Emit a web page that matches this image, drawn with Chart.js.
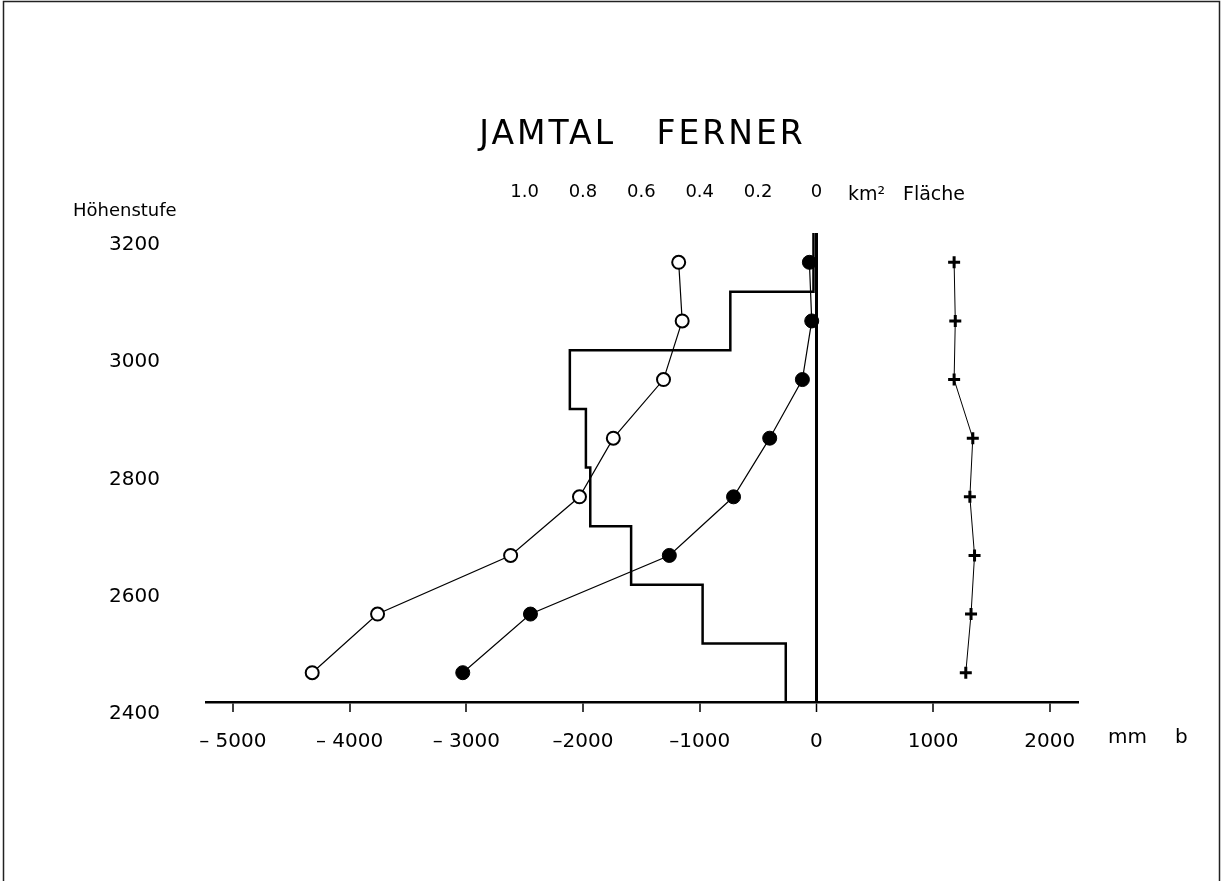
<!DOCTYPE html>
<html>
<head>
<meta charset="utf-8">
<script src="https://cdn.jsdelivr.net/npm/chart.js@4.4.1/dist/chart.umd.min.js"></script>
<style>
  html, body { margin: 0; padding: 0; background: #fff; overflow: hidden; }
  #wrap { position: relative; width: 1222px; height: 881px; }
</style>
</head>
<body>
<div id="wrap"><canvas id="c"></canvas></div>
<script>
// ---- data ----
const heights        = [3150, 3050, 2950, 2850, 2750, 2650, 2550, 2450];      // Höhenstufe midpoints (m)
const balanceOpen    = [-1180, -1150, -1310, -1740, -2030, -2620, -3760, -4320]; // mm b (open circles)
const balanceFilled  = [-60, -40, -120, -400, -710, -1260, -2450, -3030];     // mm b (filled circles)
const balancePlus    = [1180, 1190, 1180, 1340, 1315, 1355, 1325, 1280];      // mm b (plus markers)
const bandTop        = [3200, 3100, 3000, 2900, 2800, 2700, 2600, 2500];
const bandBottom     = [3100, 3000, 2900, 2800, 2700, 2600, 2500, 2400];
const areaKm2        = [0.01, 0.295, 0.845, 0.79, 0.775, 0.635, 0.39, 0.105]; // km² Fläche per band
const xTickValues    = [-5000, -4000, -3000, -2000, -1000, 0, 1000, 2000];
const xTickLabels    = ['\u2013 5000', '\u2013 4000', '\u2013 3000', '\u20132000', '\u20131000', '0', '1000', '2000'];
const areaTickValues = [1.0, 0.8, 0.6, 0.4, 0.2, 0];
const areaTickLabels = ['1.0', '0.8', '0.6', '0.4', '0.2', '0'];
const yTickValues    = [2400, 2600, 2800, 3000, 3200];
const yTickLabels    = ['2400', '2600', '2800', '3000', '3200'];

const X_MIN = -5230, X_MAX = 2250;   // mm b range
const MM_PER_KM2 = 2500;             // 0.2 km² drawn as 500 mm

const FONT = "'DejaVu Sans', 'Liberation Sans', sans-serif";
Chart.defaults.color = '#000';
Chart.defaults.font.family = FONT;

const histPoints = [];
areaKm2.forEach((a, i) => {
  histPoints.push({ x: a, y: bandTop[i] });
  histPoints.push({ x: a, y: bandBottom[i] });
});

const pageDecor = {
  id: 'pageDecor',
  beforeDraw(chart) {
    const ctx = chart.ctx;
    ctx.save();
    ctx.fillStyle = '#fff';
    ctx.fillRect(0, 0, chart.width, chart.height);
    ctx.strokeStyle = '#222';
    ctx.lineWidth = 1.5;
    ctx.beginPath();
    ctx.moveTo(3.5, chart.height); ctx.lineTo(3.5, 1.5);
    ctx.lineTo(1219.5, 1.5); ctx.lineTo(1219.5, chart.height);
    ctx.stroke();
    ctx.restore();
  },
  afterLayout(chart) {
    const tb = chart.titleBlock;
    if (tb && !tb._spaced) {
      const orig = tb.draw;
      tb.draw = function (...args) {
        const c = this.ctx;
        c.save();
        c.letterSpacing = '3px';
        orig.apply(this, args);
        c.restore();
      };
      tb._spaced = true;
    }
  },
  afterDraw(chart) {
    const ctx = chart.ctx;
    ctx.save();
    ctx.fillStyle = '#000';
    ctx.textBaseline = 'middle';
    ctx.textAlign = 'left';
    ctx.font = '18px ' + FONT;
    ctx.fillText('Höhenstufe', 73, 211);
    ctx.font = '19px ' + FONT;
    ctx.fillText('km\u00B2', 848, 195);
    ctx.fillText('Fläche', 903, 195);
    ctx.font = '20px ' + FONT;
    ctx.fillText('mm', 1108, 738);
    ctx.fillText('b', 1175, 738);
    ctx.restore();
  }
};

new Chart(document.getElementById('c'), {
  type: 'scatter',
  data: {
    datasets: [
      {
        label: 'open',
        data: heights.map((h, i) => ({ x: balanceOpen[i], y: h })),
        showLine: true,
        borderColor: '#000',
        borderWidth: 1.2,
        pointStyle: 'circle',
        pointRadius: 6.5,
        pointBorderWidth: 2,
        pointBackgroundColor: '#fff',
        pointBorderColor: '#000',
        xAxisID: 'x', yAxisID: 'y'
      },
      {
        label: 'filled',
        data: heights.map((h, i) => ({ x: balanceFilled[i], y: h })),
        showLine: true,
        borderColor: '#000',
        borderWidth: 1.2,
        pointStyle: 'circle',
        pointRadius: 7,
        pointBorderWidth: 1,
        pointBackgroundColor: '#000',
        pointBorderColor: '#000',
        xAxisID: 'x', yAxisID: 'y'
      },
      {
        label: 'plus',
        data: heights.map((h, i) => ({ x: balancePlus[i], y: h })),
        showLine: true,
        borderColor: '#000',
        borderWidth: 1,
        pointStyle: 'cross',
        pointRadius: 6,
        pointBorderWidth: 3,
        pointBorderColor: '#000',
        xAxisID: 'x', yAxisID: 'y'
      },
      {
        label: 'Fläche',
        data: histPoints,
        showLine: true,
        borderColor: '#000',
        borderWidth: 2.5,
        pointRadius: 0,
        xAxisID: 'xa', yAxisID: 'y'
      }
    ]
  },
  options: {
    responsive: true,
    maintainAspectRatio: false,
    animation: false,
    events: [],
    layout: { padding: { top: 0, left: 0, right: 143, bottom: 99 } },
    plugins: {
      legend: { display: false },
      tooltip: { enabled: false },
      title: {
        display: true,
        text: 'JAMTAL   FERNER',
        fullSize: false,
        color: '#000',
        font: { family: FONT, size: 33, weight: 'normal', lineHeight: 1.25 },
        padding: { top: 115, bottom: 0 }
      }
    },
    scales: {
      x: {
        type: 'linear',
        position: 'bottom',
        min: X_MIN, max: X_MAX,
        afterBuildTicks: (s) => { s.ticks = xTickValues.map(v => ({ value: v })); },
        afterFit: (s) => { s.height = 80; },
        ticks: {
          font: { size: 20 },
          padding: 18,
          maxRotation: 0,
          autoSkip: false,
          callback: (v) => { const i = xTickValues.indexOf(v); return i >= 0 ? xTickLabels[i] : ''; }
        },
        grid: {
          display: true,
          drawOnChartArea: true,
          drawTicks: true,
          tickLength: 10,
          tickColor: '#000',
          tickWidth: 1.5,
          color: (c) => (c.tick && c.tick.value === 0) ? '#000' : 'rgba(0,0,0,0)',
          lineWidth: (c) => (c.tick && c.tick.value === 0) ? 3 : 0
        },
        border: { display: true, color: '#000', width: 2.5 }
      },
      xa: {
        type: 'linear',
        position: 'top',
        reverse: true,
        min: -X_MAX / MM_PER_KM2,
        max: -X_MIN / MM_PER_KM2,
        afterBuildTicks: (s) => { s.ticks = areaTickValues.map(v => ({ value: v })); },
        afterFit: (s) => { s.height = 76.75; },
        ticks: {
          font: { size: 18 },
          padding: 22,
          maxRotation: 0,
          autoSkip: false,
          callback: (v) => { const i = areaTickValues.indexOf(v); return i >= 0 ? areaTickLabels[i] : ''; }
        },
        grid: { display: false },
        border: { display: false }
      },
      y: {
        type: 'linear',
        position: 'left',
        min: 2400, max: 3200,
        afterBuildTicks: (s) => { s.ticks = yTickValues.map(v => ({ value: v })); },
        afterFit: (s) => { s.width = 206; },
        ticks: {
          font: { size: 20 },
          padding: 38,
          labelOffset: 12,
          callback: (v) => { const i = yTickValues.indexOf(v); return i >= 0 ? yTickLabels[i] : ''; }
        },
        grid: { display: false },
        border: { display: false }
      }
    }
  },
  plugins: [pageDecor]
});
</script>
</body>
</html>
